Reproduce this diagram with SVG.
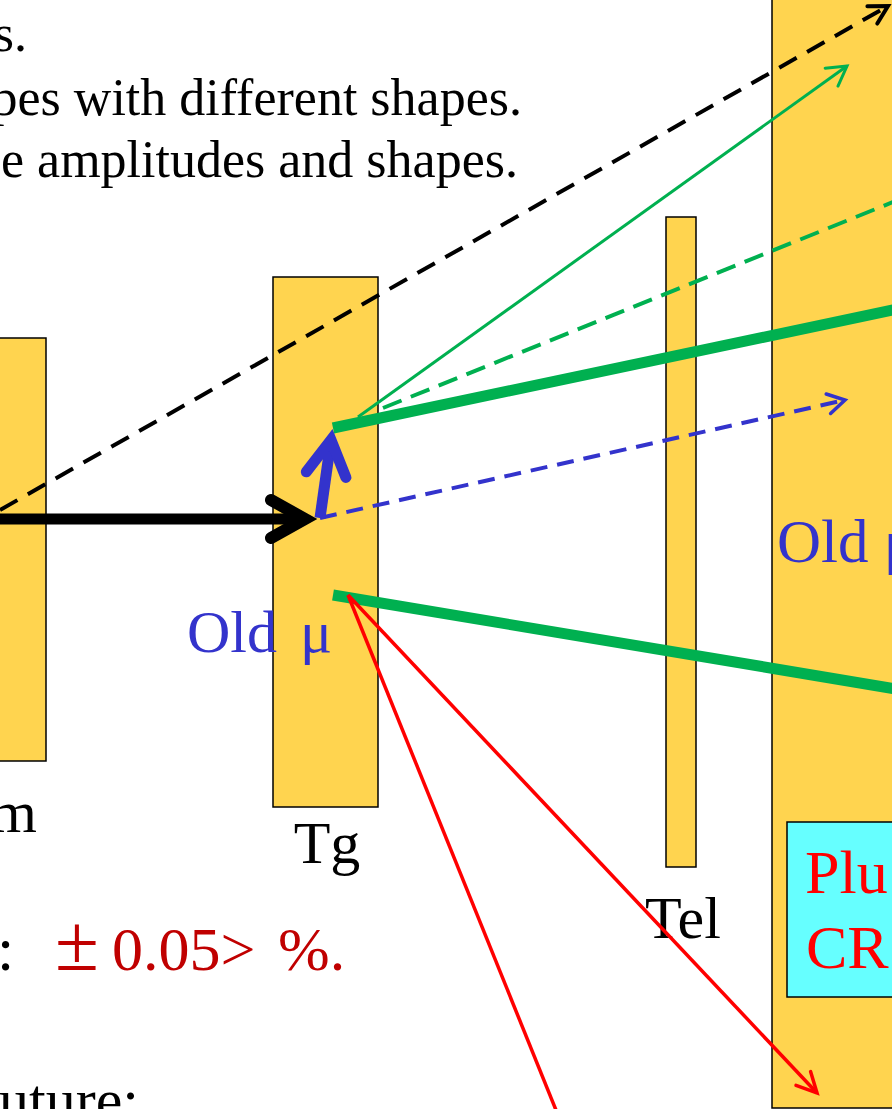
<svg xmlns="http://www.w3.org/2000/svg" width="892" height="1109" viewBox="0 0 892 1109">
<style>
.blk{fill:#FFD44F;stroke:#000;stroke-width:1.5}
.t{font-family:"Liberation Serif","Times New Roman",serif}
.blue{fill:#3333CC}
.ln{fill:none}
</style>
<defs>
<marker id="mThinK" markerUnits="userSpaceOnUse" orient="auto" overflow="visible" refX="0" refY="0" markerWidth="1" markerHeight="1"><path d="M-18,-10 L0,0 L-18,10" fill="none" stroke="#000" stroke-width="4" stroke-linecap="round"/></marker>
<marker id="mThinG" markerUnits="userSpaceOnUse" orient="auto" overflow="visible" refX="0" refY="0" markerWidth="1" markerHeight="1"><path d="M-19,-11 L0,0 L-19,11" fill="none" stroke="#00B050" stroke-width="3" stroke-linecap="round"/></marker>
<marker id="mThinB" markerUnits="userSpaceOnUse" orient="auto" overflow="visible" refX="0" refY="0" markerWidth="1" markerHeight="1"><path d="M-17,-10 L0,0 L-17,10" fill="none" stroke="#3333CC" stroke-width="3.5" stroke-linecap="round"/></marker>
<marker id="mThinR" markerUnits="userSpaceOnUse" orient="auto" overflow="visible" refX="0" refY="0" markerWidth="1" markerHeight="1"><path d="M-20,-10 L0,0 L-20,10" fill="none" stroke="#FF0000" stroke-width="3.5" stroke-linecap="round"/></marker>
<marker id="mThickK" markerUnits="userSpaceOnUse" orient="auto" overflow="visible" refX="0" refY="0" markerWidth="1" markerHeight="1"><path d="M-34,-19 L0,0 L-34,19" fill="none" stroke="#000" stroke-width="12" stroke-linecap="round" stroke-linejoin="miter"/></marker>
<marker id="mThickB" markerUnits="userSpaceOnUse" orient="auto" overflow="visible" refX="0" refY="0" markerWidth="1" markerHeight="1"><path d="M-35,-20 L0,0 L-35,20" fill="none" stroke="#3333CC" stroke-width="11" stroke-linecap="round" stroke-linejoin="miter"/></marker>
</defs>
<rect width="892" height="1109" fill="#fff"/>

<g id="text-top" class="t" font-size="52" fill="#000">
<text x="27" y="51" text-anchor="end">s.</text>
<text x="522" y="115" text-anchor="end">pes with different shapes.</text>
<text x="518" y="177" text-anchor="end">e amplitudes and shapes.</text>
</g>

<g id="node-left">
<rect class="blk" x="-10" y="338" width="56" height="423"/>
<text class="t" x="37" y="832" font-size="60" text-anchor="end">m</text>
</g>

<g id="node-tg">
<rect class="blk" x="273" y="277" width="105" height="530"/>
<text class="t" x="327" y="863" font-size="60" text-anchor="middle">Tg</text>
</g>

<g id="node-tel">
<rect class="blk" x="666" y="217" width="30" height="650"/>
<text class="t" x="683" y="938" font-size="60" text-anchor="middle">Tel</text>
</g>

<g id="node-right">
<rect class="blk" x="772" y="-10" width="140" height="1118"/>
<text class="t blue" x="777" y="562" font-size="61">Old μ</text>
</g>

<g id="node-cr">
<rect x="787" y="822" width="120" height="175" fill="#66FFFF" stroke="#000" stroke-width="1.5"/>
<text class="t" x="805" y="893" font-size="62" fill="#FF0000">Plu</text>
<text class="t" x="806" y="968" font-size="62" fill="#FF0000">CR</text>
</g>

<g id="label-oldmu">
<text class="t blue" x="187" y="652" font-size="60" word-spacing="8">Old μ</text>
</g>

<g id="text-bottom" class="t">
<text x="-3" y="970" font-size="62">:</text>
<text y="970" font-size="62" fill="#C00000"><tspan x="55" font-size="80">±</tspan><tspan x="112">0.05&gt;</tspan><tspan x="278">%.</tspan></text>
<text x="139" y="1120" font-size="60" text-anchor="end">uture:</text>
</g>

<g id="connectors" class="ln">
<line x1="0" y1="510" x2="888" y2="6" stroke="#000" stroke-width="4" stroke-dasharray="20 12" marker-end="url(#mThinK)"/>
<line x1="-10" y1="519" x2="305" y2="519" stroke="#000" stroke-width="11" marker-end="url(#mThickK)"/>
<line x1="320" y1="518" x2="845" y2="400" stroke="#3333CC" stroke-width="4" stroke-dasharray="17 10" marker-end="url(#mThinB)"/>
<line x1="320" y1="518" x2="331" y2="440" stroke="#3333CC" stroke-width="11" marker-end="url(#mThickB)"/>
<line x1="358" y1="417" x2="847" y2="66" stroke="#00B050" stroke-width="3" marker-end="url(#mThinG)"/>
<line x1="383" y1="408" x2="950" y2="179" stroke="#00B050" stroke-width="4" stroke-dasharray="20 10"/>
<line x1="333" y1="428" x2="950" y2="298" stroke="#00B050" stroke-width="11"/>
<line x1="333" y1="595" x2="950" y2="698" stroke="#00B050" stroke-width="11"/>
<line x1="348" y1="595" x2="560" y2="1120" stroke="#FF0000" stroke-width="3.5"/>
<line x1="348" y1="595" x2="817" y2="1093" stroke="#FF0000" stroke-width="3.5" marker-end="url(#mThinR)"/>
</g>
</svg>
